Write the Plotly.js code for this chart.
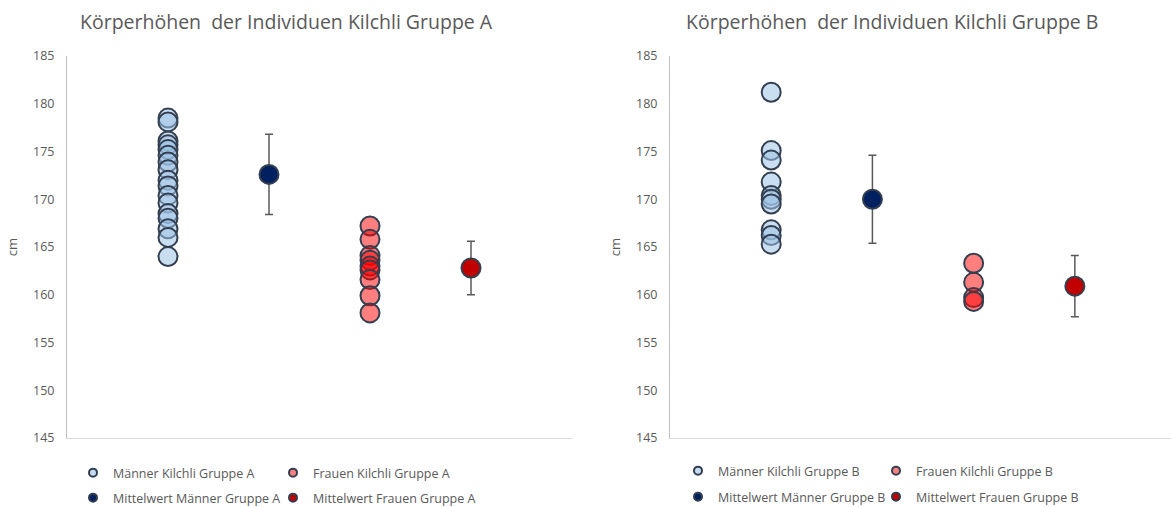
<!DOCTYPE html>
<html><head><meta charset="utf-8">
<script src="https://cdn.plot.ly/plotly-3.0.1.min.js"></script>
<style>html,body{margin:0;padding:0;background:#fff}#chart{width:1171px;height:507px}</style>
</head><body><div id="chart"></div>
<script>
// Gruppe A
const menA = [178.5, 178.1, 176.1, 175.7, 175.2, 174.6, 173.9, 173.1, 172.0, 171.4, 170.4, 169.6, 168.5, 168.0, 166.9, 166.0, 164.0];
const womenA = [167.2, 165.8, 164.1, 163.6, 163.0, 162.6, 161.6, 159.9, 158.1];
const meanMenA = 172.6, errMenA = 4.2;
const meanWomenA = 162.8, errWomenA = 2.8;
// Gruppe B
const menB = [181.2, 175.1, 174.1, 171.8, 170.4, 170.0, 169.5, 166.8, 166.2, 165.3];
const womenB = [163.3, 161.3, 159.7, 159.3];
const meanMenB = 170.0, errMenB = 4.6;
const meanWomenB = 160.9, errWomenB = 3.2;
// category positions
const posMen = 1, posMeanMen = 2, posWomen = 3, posMeanWomen = 4;
const namesA = ["Männer Kilchli Gruppe A", "Frauen Kilchli Gruppe A", "Mittelwert Männer Gruppe A", "Mittelwert Frauen Gruppe A"];
const namesB = ["Männer Kilchli Gruppe B", "Frauen Kilchli Gruppe B", "Mittelwert Männer Gruppe B", "Mittelwert Frauen Gruppe B"];
const titleA = "Körperhöhen  der Individuen Kilchli Gruppe A";
const titleB = "Körperhöhen  der Individuen Kilchli Gruppe B";

const border = "#333f50";
const menFill = "rgba(157,195,230,0.55)";
const womenFill = "rgba(255,0,0,0.5)";
const meanMenCol = "#002060";
const meanWomenCol = "#c00000";
const legMenFill = "#c5dcf2";
const legWomenFill = "#ff8080";
const grey = "#595959";

function pts(vals, pos, fill, xa, ya) {
  return {type:"scatter", mode:"markers", x: vals.map(()=>pos), y: vals, xaxis:xa, yaxis:ya, showlegend:false,
    marker:{size:19, color:fill, line:{color:border, width:2}}};
}
function mean(v, e, pos, col, xa, ya) {
  return {type:"scatter", mode:"markers", x:[pos], y:[v], xaxis:xa, yaxis:ya, showlegend:false,
    error_y:{type:"data", array:[e], visible:true, color:grey, thickness:1.5, width:4},
    marker:{size:19, color:col, line:{color:border, width:2}}};
}
function leg(name, fill, lg, xa, ya) {
  return {type:"scatter", mode:"markers", x:[null], y:[null], xaxis:xa, yaxis:ya, name:name, legend:lg, showlegend:true,
    marker:{size:8, color:fill, line:{color:border, width:2}}};
}

const data = [
  pts(menA, posMen, menFill, "x", "y"),
  pts(womenA, posWomen, womenFill, "x", "y"),
  mean(meanMenA, errMenA, posMeanMen, meanMenCol, "x", "y"),
  mean(meanWomenA, errWomenA, posMeanWomen, meanWomenCol, "x", "y"),
  pts(menB, posMen, menFill, "x2", "y2"),
  pts(womenB, posWomen, womenFill, "x2", "y2"),
  mean(meanMenB, errMenB, posMeanMen, meanMenCol, "x2", "y2"),
  mean(meanWomenB, errWomenB, posMeanWomen, meanWomenCol, "x2", "y2"),
  leg(namesA[0], legMenFill, "legend", "x", "y"),
  leg(namesA[1], legWomenFill, "legend2", "x", "y"),
  leg(namesA[2], meanMenCol, "legend3", "x", "y"),
  leg(namesA[3], meanWomenCol, "legend4", "x", "y"),
  leg(namesB[0], legMenFill, "legend5", "x2", "y2"),
  leg(namesB[1], legWomenFill, "legend6", "x2", "y2"),
  leg(namesB[2], meanMenCol, "legend7", "x2", "y2"),
  leg(namesB[3], meanWomenCol, "legend8", "x2", "y2")
];

const fontFam = "Open Sans, Liberation Sans, sans-serif";
const yax = {range:[145,185], dtick:5, tick0:145, showgrid:false, zeroline:false, showline:true, linecolor:"#bfbfbf", linewidth:1,
  ticks:"", ticklabelstandoff:9, tickfont:{size:12.5, color:grey, family:fontFam},
  title:{text:"cm", font:{size:13, color:grey, family:fontFam}, standoff:12}};
const xax = {showgrid:false, zeroline:false, showline:true, linecolor:"#d9d9d9", linewidth:1, showticklabels:false, ticks:"", fixedrange:true};
function legendAt(textX, ytop) {
  return {orientation:"h", xref:"container", yref:"container", xanchor:"left", yanchor:"top", x:(textX-40)/1171, y:(507-ytop)/507,
    traceorder:"normal", font:{size:12.5, color:grey, family:fontFam}, itemwidth:30, bgcolor:"rgba(0,0,0,0)"};
}

const layout = {
  width:1171, height:507, margin:{l:0, r:0, t:56, b:69, autoexpand:false},
  paper_bgcolor:"#fff", plot_bgcolor:"#fff", font:{family:fontFam, color:grey},
  title:{text:titleA, x:80/1171, xanchor:"left", xref:"paper", y:1-22/507, yanchor:"middle", font:{size:19.5, color:grey, family:fontFam}},
  xaxis:Object.assign({}, xax, {domain:[67/1171, 572/1171], range:[0,5]}),
  yaxis:Object.assign({}, yax, {anchor:"x"}),
  xaxis2:Object.assign({}, xax, {domain:[670/1171, 1], range:[0,4.95]}),
  yaxis2:Object.assign({}, yax, {anchor:"x2"}),
  legend:legendAt(113, 458),
  legend2:legendAt(313, 458),
  legend3:legendAt(113, 483),
  legend4:legendAt(313, 483),
  legend5:legendAt(718, 456),
  legend6:legendAt(916, 456),
  legend7:legendAt(718, 482),
  legend8:legendAt(916, 482),
  annotations:[{text:titleB, xref:"paper", yref:"paper", x:684/1171, xanchor:"left", y:1+34/382, yanchor:"middle", showarrow:false,
    font:{size:19.5, color:grey, family:fontFam}}],
  showlegend:true
};
Plotly.newPlot("chart", data, layout, {displayModeBar:false, staticPlot:true});
</script></body></html>
